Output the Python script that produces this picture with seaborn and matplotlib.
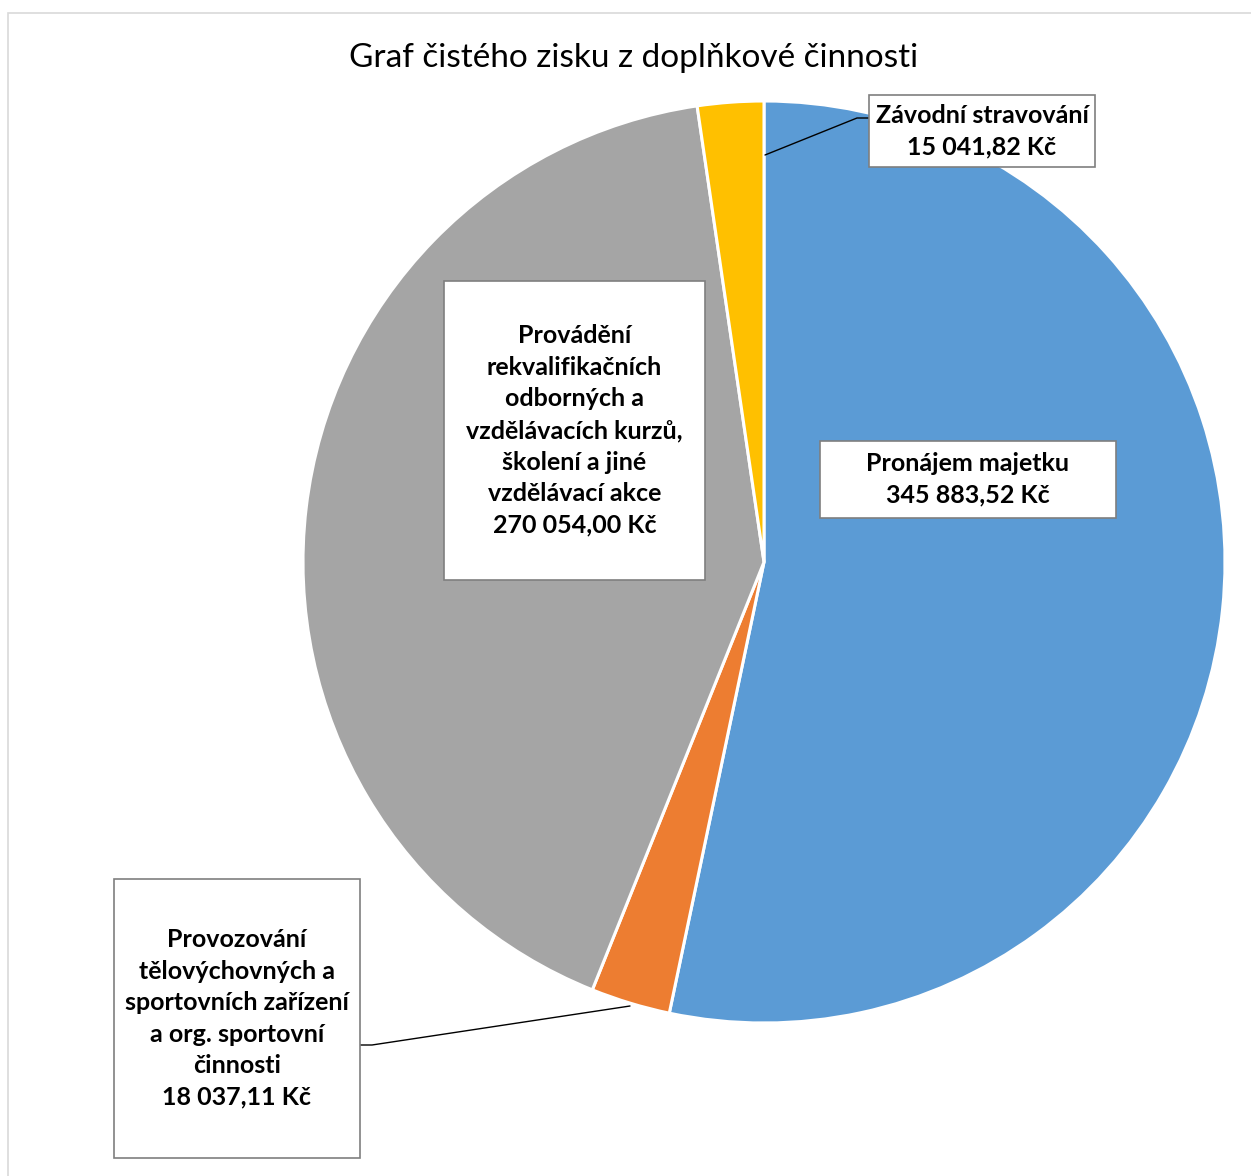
import matplotlib
matplotlib.use("Agg")
import matplotlib.pyplot as plt
import seaborn as sns
from matplotlib.patches import Rectangle

# data (order: clockwise from 12 o'clock)
categories = ["Pronájem majetku",
              "Provozování tělovýchovných a sportovních zařízení a org. sportovní činnosti",
              "Provádění rekvalifikačních odborných a vzdělávacích kurzů, školení a jiné vzdělávací akce",
              "Závodní stravování"]
label_text = ["Pronájem majetku",
              "Provozování\ntělovýchovných a\nsportovních zařízení\na org. sportovní\nčinnosti",
              "Provádění\nrekvalifikačních\nodborných a\nvzdělávacích kurzů,\nškolení a jiné\nvzdělávací akce",
              "Závodní stravování"]
values = [345883.52, 18037.11, 270054.00, 15041.82]
colors = ["#5B9BD5", "#ED7D31", "#A5A5A5", "#FFC000"]

sns.set_theme(style="white")
plt.rcParams["font.family"] = ["Lato", "DejaVu Sans"]

W, H = 1251, 1176
fig = plt.figure(figsize=(W / 100, H / 100), dpi=100)
ax = fig.add_axes([0, 0, 1, 1])
ax.set_xlim(0, W)
ax.set_ylim(0, H)
ax.set_aspect("equal")
ax.axis("off")

# chart border (only top/left visible in the crop)
ax.add_patch(Rectangle((7.5, -20), W + 40, H - 12.5 + 20, fill=False,
                       edgecolor="#D9D9D9", linewidth=1.2))

cx, cy, r = 764, H - 562, 461
ax.pie(values, colors=sns.color_palette(colors), startangle=90, counterclock=False,
       center=(cx, cy), radius=r, frame=True,
       wedgeprops=dict(edgecolor="white", linewidth=2.2))
ax.set_xlim(0, W)
ax.set_ylim(0, H)
ax.axis("off")


def fmt(v):
    return f"{v:,.2f}".replace(",", " ").replace(".", ",") + " Kč"


# label boxes: (x0, y0, x1, y1) in pixel coords from top
boxes = [(820, 441, 1116, 518),
         (114, 879, 360, 1158),
         (444, 281, 705, 580),
         (869, 95, 1095, 167)]

for txt, v, (x0, y0, x1, y1) in zip(label_text, values, boxes):
    ax.add_patch(Rectangle((x0, H - y1), x1 - x0, y1 - y0, facecolor="white",
                           edgecolor="#7F7F7F", linewidth=1.2, zorder=4))
    ax.text((x0 + x1) / 2, H - (y0 + y1) / 2, txt + "\n" + fmt(v), ha="center",
            va="center", fontsize=18, fontweight="bold", color="black",
            linespacing=1.45, zorder=5)

# leader lines
ax.plot([765, 857, 869], [H - 155, H - 118, H - 118], color="black", lw=1, zorder=3)
ax.plot([630, 372, 360], [H - 1006, H - 1045, H - 1045], color="black", lw=1, zorder=3)

ax.text(634, H - 58, "Graf čistého zisku z doplňkové činnosti", ha="center",
        va="center", fontsize=24, color="black")

fig.savefig("out.png", dpi=100)
